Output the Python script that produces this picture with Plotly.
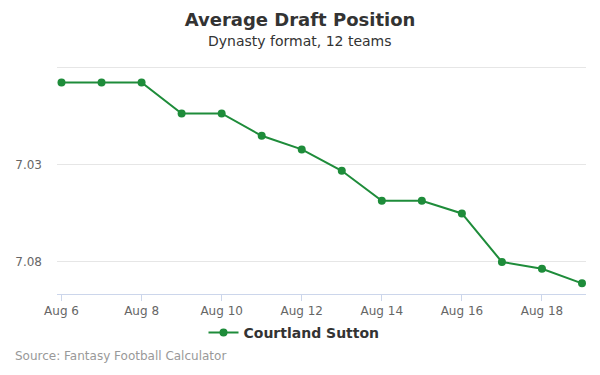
import plotly.graph_objects as go

dates = ["2023-08-06", "2023-08-07", "2023-08-08", "2023-08-09", "2023-08-10",
         "2023-08-11", "2023-08-12", "2023-08-13", "2023-08-14", "2023-08-15",
         "2023-08-16", "2023-08-17", "2023-08-18", "2023-08-19"]
adp = [6.9875, 6.9875, 6.9875, 7.0035, 7.0035, 7.015, 7.022, 7.033, 7.0485, 7.0485,
       7.055, 7.080, 7.0835, 7.091]
series_name = "Courtland Sutton"
tick_dates = ["2023-08-06", "2023-08-08", "2023-08-10", "2023-08-12",
              "2023-08-14", "2023-08-16", "2023-08-18"]
tick_labels = ["Aug 6", "Aug 8", "Aug 10", "Aug 12", "Aug 14", "Aug 16", "Aug 18"]
y_ticks = [6.98, 7.03, 7.08]
y_labels = ["", "7.03", "7.08"]

green = "#1e8c3a"
font = "DejaVu Sans"

# page body has an 8px default margin; figure coords = screen - 8
W, H = 592, 367
L, R, T, B = 49, 14, 56, 81
PW, PH = W - L - R, H - T - B
AXIS_Y = H - B  # figure y of x-axis line

fig = go.Figure()
fig.add_trace(go.Scatter(
    x=dates, y=adp, mode="lines+markers", name=series_name,
    line=dict(color=green, width=2),
    marker=dict(color=green, size=8),
))

fig.update_layout(
    width=W, height=H,
    margin=dict(l=L, r=R, t=T, b=B, autoexpand=False),
    paper_bgcolor="white", plot_bgcolor="white",
    font=dict(family=font, color="#666666", size=12),
    showlegend=True,
    legend=dict(orientation="h", x=(286 - L) / PW, xanchor="center", xref="paper",
                y=-(325 - AXIS_Y) / PH, yanchor="middle", bgcolor="rgba(0,0,0,0)",
                font=dict(family=font, size=14, color="#333333", weight="bold")),
    title=dict(text="Average Draft Position", x=292 / W, xanchor="center",
               y=1 - 12 / H, yanchor="middle", xref="container", yref="container",
               font=dict(family=font, size=18, color="#333333", weight="bold")),
    annotations=[
        dict(text="Dynasty format, 12 teams", xref="paper", yref="paper",
             x=(292 - L) / PW, y=1 + (T - 33) / PH, xanchor="center", yanchor="middle",
             showarrow=False, font=dict(family=font, size=14, color="#333333")),
        dict(text="Source: Fantasy Football Calculator", xref="paper", yref="paper",
             x=(5 - L) / PW, y=-(348 - AXIS_Y) / PH, xanchor="left", yanchor="middle",
             showarrow=False, font=dict(family=font, size=12, color="#999999")),
    ],
)

fig.update_xaxes(
    type="date",
    range=["2023-08-05 21:18", "2023-08-19 02:24"],
    tickvals=tick_dates, ticktext=tick_labels,
    showgrid=False, showline=True, linecolor="#ccd6eb", linewidth=1,
    ticks="outside", ticklen=6, tickcolor="#ccd6eb",
    tickfont=dict(family=font, size=12, color="#666666"),
    zeroline=False,
)
fig.update_yaxes(
    range=[7.0965, 6.978],
    tickvals=y_ticks, ticktext=y_labels,
    showgrid=True, gridcolor="#e6e6e6", gridwidth=1,
    showline=False, zeroline=False, ticks="", ticklabelstandoff=14,
    tickfont=dict(family=font, size=12, color="#666666"),
)

fig.write_html("out.html")
